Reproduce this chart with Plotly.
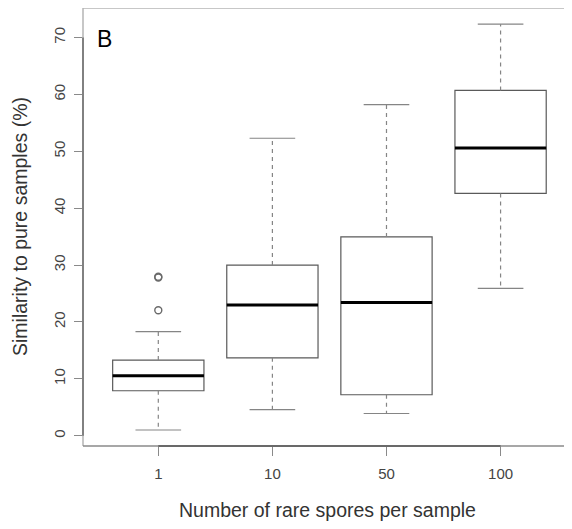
import plotly.graph_objects as go

# ---- data ----
categories = ["1", "10", "50", "100"]
positions = [1, 2, 3, 4]
q1 = [7.9, 13.7, 7.2, 42.6]
median = [10.55, 23.0, 23.4, 50.6]
q3 = [13.3, 30.0, 34.95, 60.7]
lower_whisker = [1.0, 4.6, 3.9, 25.9]
upper_whisker = [18.3, 52.3, 58.2, 72.35]
outlier_x = [1, 1, 1]
outlier_y = [22.05, 27.8, 27.95]
y_ticks = [0, 10, 20, 30, 40, 50, 60, 70]

BOX_W = 0.8
CAP_W = 0.4
box_col = "#5a5a5a"
wh_col = "#858585"

fig = go.Figure()

# boxes
fig.add_trace(go.Box(
    x=positions, q1=q1, median=median, q3=q3,
    lowerfence=q1, upperfence=q3, width=BOX_W,
    fillcolor="white", line=dict(color=box_col, width=1.2),
    whiskerwidth=0, boxpoints=False, hoverinfo="skip", showlegend=False,
))

# dashed whiskers
wx, wy = [], []
for p, a, b, lo, hi in zip(positions, q1, q3, lower_whisker, upper_whisker):
    wx += [p, p, None, p, p, None]
    wy += [b, hi, None, a, lo, None]
fig.add_trace(go.Scatter(x=wx, y=wy, mode="lines",
                         line=dict(color=wh_col, width=1.2, dash="4px,4px"),
                         showlegend=False, hoverinfo="skip"))

# caps
cx, cy = [], []
for p, lo, hi in zip(positions, lower_whisker, upper_whisker):
    cx += [p - CAP_W / 2, p + CAP_W / 2, None, p - CAP_W / 2, p + CAP_W / 2, None]
    cy += [hi, hi, None, lo, lo, None]
fig.add_trace(go.Scatter(x=cx, y=cy, mode="lines",
                         line=dict(color=wh_col, width=1.2),
                         showlegend=False, hoverinfo="skip"))

# medians
mx, my = [], []
for p, m in zip(positions, median):
    mx += [p - BOX_W / 2, p + BOX_W / 2, None]
    my += [m, m, None]
fig.add_trace(go.Scatter(x=mx, y=my, mode="lines",
                         line=dict(color="black", width=3),
                         showlegend=False, hoverinfo="skip"))

# outliers
fig.add_trace(go.Scatter(x=outlier_x, y=outlier_y, mode="markers",
                         marker=dict(symbol="circle-open", size=7,
                                     color="#6a6a6a", line=dict(width=1.4)),
                         showlegend=False, hoverinfo="skip"))

font_family = "Liberation Sans, Arial, Helvetica, sans-serif"

# page body has an 8px margin: figure sized/offset so plot area lands where the reference has it
fig.update_layout(
    width=564, height=521,
    margin=dict(l=75, r=0, t=0, b=83),
    paper_bgcolor="white", plot_bgcolor="white",
    font=dict(family=font_family, color="#333333"),
    xaxis=dict(
        range=[0.34, 4.626], tickmode="array", tickvals=positions,
        ticktext=categories, showgrid=False, zeroline=False, showline=False,
        ticks="outside", ticklen=9, tickcolor="#8a8a8a", tickwidth=1,
        ticklabelstandoff=5,
        tickfont=dict(size=15, color="#444444"),
    ),
    yaxis=dict(
        range=[-1.81, 75.2], tickmode="array", tickvals=y_ticks,
        showgrid=False, zeroline=False, showline=False,
        ticks="outside", ticklen=8, tickcolor="#8a8a8a", tickwidth=1,
        ticklabelstandoff=3,
        tickangle=-90, tickfont=dict(size=15, color="#444444"),
    ),
    shapes=[
        # frame (light)
        dict(type="line", xref="paper", yref="paper", x0=0, x1=1, y0=1, y1=1,
             line=dict(color="#b5b5b5", width=1.5)),
        dict(type="line", xref="paper", yref="paper", x0=0, x1=0, y0=0, y1=1,
             line=dict(color="#b5b5b5", width=1.5)),
        dict(type="line", xref="paper", yref="paper", x0=0, x1=1, y0=0, y1=0,
             line=dict(color="#8a8a8a", width=1.5)),
        # axis lines (darker)
        dict(type="line", xref="paper", yref="y", x0=0, x1=0,
             y0=y_ticks[0], y1=y_ticks[-1], line=dict(color="#6a6a6a", width=1.5)),
        dict(type="line", xref="x", yref="paper", x0=positions[0], x1=positions[-1],
             y0=0, y1=0, line=dict(color="#555555", width=1.5)),
    ],
    annotations=[
        dict(text="B", xref="paper", yref="paper", x=0, y=1, xanchor="left",
             yanchor="top", xshift=12, yshift=-16, showarrow=False,
             font=dict(size=23, color="black", family=font_family)),
        dict(text="Number of rare spores per sample", xref="paper", yref="paper",
             x=0.5, y=0, xanchor="center", yanchor="middle", yshift=-64,
             showarrow=False, font=dict(size=19.5, color="#333333", family=font_family)),
        dict(text="Similarity to pure samples (%)", xref="paper", yref="paper",
             x=0, y=0.5, xanchor="center", yanchor="middle", xshift=-63,
             textangle=-90, showarrow=False,
             font=dict(size=19.5, color="#333333", family=font_family)),
    ],
)

fig.write_html("out.html")
